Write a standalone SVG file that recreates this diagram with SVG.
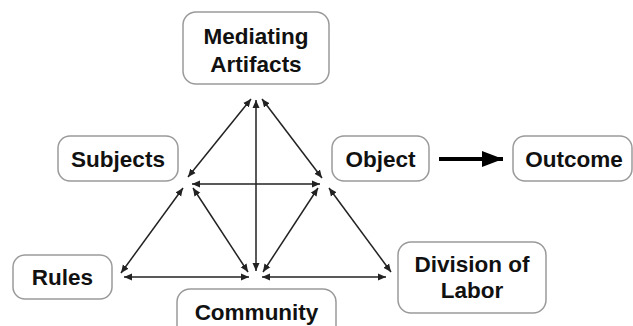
<svg xmlns="http://www.w3.org/2000/svg" width="633" height="326" viewBox="0 0 633 326">
<style>
.box{fill:#fff;stroke:#9a9a9a;stroke-width:1.5}
.lbl{font-family:"Liberation Sans",Arial,sans-serif;font-weight:bold;font-size:22.5px;fill:#111;text-anchor:middle}
.con{stroke:#222;stroke-width:1.5;fill:none;marker-start:url(#ah);marker-end:url(#ah)}
</style>
<defs>
<marker id="ah" markerUnits="userSpaceOnUse" markerWidth="10" markerHeight="8" refX="8" refY="4" orient="auto-start-reverse">
<path d="M0,0.5 L8,4 L0,7.5 z" fill="#222"/>
</marker>
<marker id="bigah" markerUnits="userSpaceOnUse" markerWidth="22" markerHeight="18" refX="21" refY="8" orient="auto">
<path d="M0,0 L21,8 L0,16 z" fill="#000"/>
</marker>
</defs>
<rect width="633" height="326" fill="#fff"/>
<g id="connectors">
<line class="con" x1="251" y1="99" x2="188" y2="177"/>
<line class="con" x1="262" y1="99" x2="322" y2="178"/>
<line class="con" x1="256" y1="100" x2="256" y2="271"/>
<line class="con" x1="192" y1="184" x2="320" y2="184"/>
<line class="con" x1="183" y1="188" x2="121" y2="273"/>
<line class="con" x1="193" y1="188" x2="248" y2="272"/>
<line class="con" x1="318" y1="188" x2="263" y2="272"/>
<line class="con" x1="329" y1="188" x2="391" y2="272"/>
<line class="con" x1="124" y1="277" x2="249" y2="277"/>
<line class="con" x1="262" y1="277" x2="386" y2="277"/>
<line x1="439" y1="159" x2="503" y2="159" stroke="#000" stroke-width="4" marker-end="url(#bigah)"/>
</g>
<g id="mediating-artifacts">
<rect class="box" x="183" y="12" width="146" height="72" rx="13"/>
<text class="lbl" x="256" y="44">Mediating</text>
<text class="lbl" x="256" y="72">Artifacts</text>
</g>
<g id="subjects">
<rect class="box" x="58" y="136" width="120" height="45" rx="12"/>
<text class="lbl" x="118" y="167">Subjects</text>
</g>
<g id="object">
<rect class="box" x="332" y="136" width="97" height="45" rx="12"/>
<text class="lbl" x="380.5" y="167">Object</text>
</g>
<g id="outcome">
<rect class="box" x="513" y="136" width="119" height="45" rx="12"/>
<text class="lbl" x="574" y="167">Outcome</text>
</g>
<g id="rules">
<rect class="box" x="13" y="255" width="99" height="44" rx="12"/>
<text class="lbl" x="62.5" y="285">Rules</text>
</g>
<g id="community">
<rect class="box" x="177" y="289" width="159" height="50" rx="13"/>
<text class="lbl" x="256.5" y="320">Community</text>
</g>
<g id="division-of-labor">
<rect class="box" x="398" y="242" width="148" height="71" rx="13"/>
<text class="lbl" x="472" y="272">Division of</text>
<text class="lbl" x="472" y="298">Labor</text>
</g>
</svg>
